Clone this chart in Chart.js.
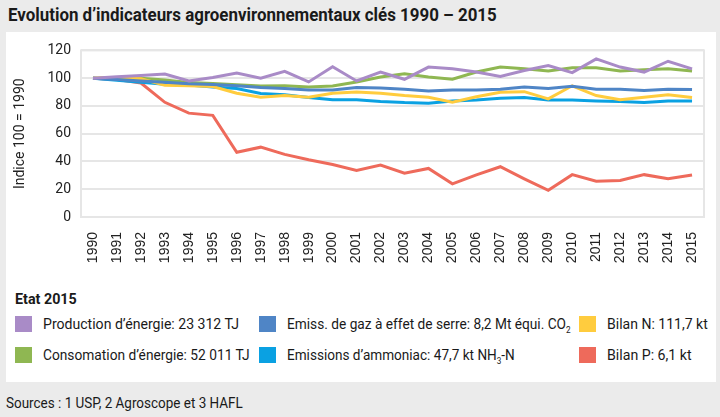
<!DOCTYPE html>
<html lang="fr">
<head>
<meta charset="utf-8">
<script src="https://cdn.jsdelivr.net/npm/chart.js@4.4.1/dist/chart.umd.min.js"></script>
<style>
  html, body { margin: 0; padding: 0; }
  body {
    width: 720px; height: 417px; overflow: hidden; position: relative;
    background: #ebebeb; color: #1a1a1a;
    font-family: Roboto, "Open Sans", sans-serif;
  }
  .fit { display: inline-block; white-space: nowrap; transform-origin: 0 50%; }
  #title { position: absolute; left: 8px; top: 4px; font-size: 18px; font-weight: bold; }
  #panel { position: absolute; left: 6px; top: 32px; width: 710px; height: 350px; background: #fff; }
  #chartBox { position: absolute; left: 0; top: 0; width: 710px; height: 250px; }
  #legendTitle { position: absolute; left: 9px; top: 258px; font-size: 15px; font-weight: bold; }
  .item { position: absolute; font-size: 15px; white-space: nowrap; line-height: 17px; }
  .item span.sw { position: absolute; left: 0; top: 0; width: 17px; height: 16px; }
  .item span.tx { position: absolute; left: 28px; top: 0; }
  sub { font-size: 9px; vertical-align: -4px; line-height: 0; }
  #sources { position: absolute; left: 6px; top: 394px; font-size: 15px; }
</style>
</head>
<body>
<div id="title" class="fit" data-w="489">Evolution d’indicateurs agroenvironnementaux clés 1990 – 2015</div>
<div id="panel">
  <div id="chartBox"><canvas id="chart"></canvas></div>
  <div id="legendTitle" class="fit" data-w="62">Etat 2015</div>
  <div id="legend"></div>
</div>
<div id="sources" class="fit" data-w="237">Sources : 1 USP, 2 Agroscope et 3 HAFL</div>

<script>
// years on the x axis
const years = [
  "1990", "1991", "1992", "1993", "1994", "1995", "1996", "1997", "1998",
  "1999", "2000", "2001", "2002", "2003", "2004", "2005", "2006", "2007",
  "2008", "2009", "2010", "2011", "2012", "2013", "2014", "2015",
];

// index values, 100 = 1990
const productionEnergie = [100, 101, 102, 103, 98, 100.5, 103.7, 100, 104.9, 97.3, 108.2, 98,
  104.4, 99.2, 108, 106.7, 104.4, 101.3, 105.5, 109.1, 104, 113.9, 108, 104.4, 112.2, 106.7];
const consoEnergie = [100, 100.5, 100, 98.7, 96.8, 96.1, 95.3, 94.3, 94.5, 93.6, 94.4, 97.3,
  100.8, 103.2, 100.8, 99.2, 104.4, 108, 106.7, 105.1, 107.5, 107.5, 105.1, 106, 106.7, 105.1];
const emissGes = [100, 99, 98, 97, 96, 95.5, 94.5, 93.2, 92.6, 91.5, 91.4, 93.2,
  93, 92.1, 90.7, 91.4, 91.4, 92.1, 93.7, 92.6, 94.2, 92.1, 92.1, 91.2, 92.1, 91.9];
const bilanN = [100, 100.5, 99.5, 94.9, 94.5, 94, 89.2, 86.2, 87.5, 86.3, 89.2, 90,
  89.2, 87.5, 86.3, 82.6, 86.6, 89.8, 90.3, 85.1, 94.5, 87.5, 84.4, 86.3, 88, 86.1];
const emissNh3 = [100, 98.5, 97, 95.6, 95, 93.6, 92.5, 89, 88, 86, 84.4, 84.4,
  83.2, 82.4, 82, 83.6, 84.3, 85.5, 86, 84.3, 84.3, 83.6, 83.2, 82.4, 83.6, 83.6];
const bilanP = [100, 99, 96.5, 82.6, 74.8, 73.2, 46.6, 50.3, 45.1, 41.2, 37.8, 33.6,
  37.4, 31.5, 35, 23.9, 30.3, 36.2, 27.5, 19.2, 30.5, 25.8, 26.3, 30.5, 27.5, 30.3];

// legend texts (state 2015)
const legendLabels = [
  "Production d’énergie: 23 312 TJ",
  "Consomation d’énergie: 52 011 TJ",
  "Emiss. de gaz à effet de serre: 8,2 Mt équi. CO<sub>2</sub>",
  "Emissions d’ammoniac: 47,7 kt NH<sub>3</sub>-N",
  "Bilan N: 111,7 kt",
  "Bilan P: 6,1 kt",
];
// widths of those texts in the original, used to squeeze the font
const legendWidths = [196, 207, 284, 228, 101, 85];

const yTicks = [0, 20, 40, 60, 80, 100, 120];

const colors = {
  purple: "#a98bc7",
  green: "#8fb752",
  blue: "#4f85c6",
  cyan: "#0aa1e2",
  yellow: "#ffcc3e",
  red: "#ee6a5b",
};

const series = [
  { data: productionEnergie, color: colors.purple, legend: 0 },
  { data: consoEnergie, color: colors.green, legend: 1 },
  { data: emissGes, color: colors.blue, legend: 2 },
  { data: emissNh3, color: colors.cyan, legend: 3 },
  { data: bilanN, color: colors.yellow, legend: 4 },
  { data: bilanP, color: colors.red, legend: 5 },
];

// legend laid out in 3 columns x 2 rows like the original
const legendPos = [
  [9, 284], [9, 315],
  [253, 284], [253, 315],
  [573, 284], [573, 315],
];
const legendEl = document.getElementById("legend");
series.forEach((s) => {
  const [x, y] = legendPos[s.legend];
  const div = document.createElement("div");
  div.className = "item";
  div.style.left = x + "px";
  div.style.top = y + "px";
  div.innerHTML = '<span class="sw" style="background:' + s.color + '"></span>' +
    '<span class="tx fit" data-w="' + legendWidths[s.legend] + '">' + legendLabels[s.legend] + "</span>";
  legendEl.appendChild(div);
});

// the original uses a condensed face; squeeze each text to its width
document.querySelectorAll(".fit").forEach((el) => {
  const w = el.offsetWidth;
  const target = Number(el.dataset.w);
  if (w > 0 && target) el.style.transform = "scaleX(" + (target / w).toFixed(3) + ")";
});

// frame around the plot area
const plotFrame = {
  id: "plotFrame",
  beforeDatasetsDraw(chart) {
    const { ctx, chartArea: a } = chart;
    ctx.save();
    ctx.strokeStyle = "#e6e6e6";
    ctx.lineWidth = 2;
    ctx.strokeRect(a.left, a.top, a.right - a.left, a.bottom - a.top);
    ctx.restore();
  },
};

// draw order: put the red line last
const drawOrder = [0, 2, 4, 1, 3, 5];

new Chart(document.getElementById("chart"), {
  type: "line",
  data: {
    labels: years,
    datasets: drawOrder.map((i) => ({
      label: legendLabels[i],
      data: series[i].data,
      borderColor: series[i].color,
      backgroundColor: series[i].color,
      borderWidth: 3,
      pointRadius: 0,
      tension: 0,
      borderJoinStyle: "miter",
    })),
  },
  options: {
    responsive: true,
    maintainAspectRatio: false,
    animation: false,
    layout: { padding: { top: 16, right: 8, left: 0, bottom: 0 } },
    plugins: { legend: { display: false }, tooltip: { enabled: false } },
    scales: {
      x: {
        offset: true,
        grid: { display: false },
        border: { display: false },
        ticks: {
          maxRotation: 90,
          minRotation: 90,
          autoSkip: false,
          padding: 7,
          color: "#222",
          font: { family: "Liberation Sans, Arial, sans-serif", size: 14 },
        },
        afterFit(scale) { scale.height = 65; },
      },
      y: {
        min: 0,
        max: 120,
        afterBuildTicks(scale) { scale.ticks = yTicks.map((v) => ({ value: v })); },
        grid: { color: "#e6e6e6", lineWidth: 2, drawTicks: false },
        border: { display: false },
        ticks: {
          padding: 10,
          color: "#222",
          font: { family: "Roboto, sans-serif", size: 14 },
        },
        title: {
          display: true,
          text: "Indice 100 = 1990",
          color: "#222",
          padding: { top: 6, bottom: 0 },
          font: { family: "Roboto, sans-serif", size: 14 },
        },
        afterFit(scale) { scale.width = 75; },
      },
    },
  },
  plugins: [plotFrame],
});
</script>
</body>
</html>
